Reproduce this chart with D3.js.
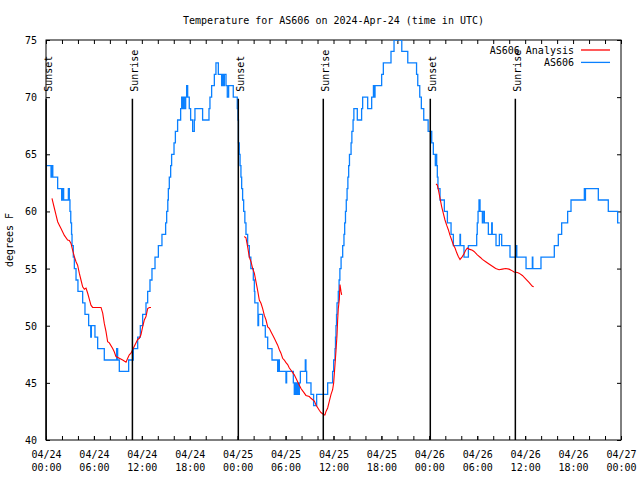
<!DOCTYPE html>
<html><head><meta charset="utf-8">
<script src="https://cdn.jsdelivr.net/npm/d3@7"></script>
<style>
body{margin:0;background:#fff}
svg text{font-family:'DejaVu Sans Mono',monospace;font-size:10px;fill:#000}
</style>
</head><body>
<svg id="chart" width="640" height="480"></svg>
<script>
// ---------- DATA ----------
const chartTitle = "Temperature for AS606 on 2024-Apr-24 (time in UTC)";
const yLabel = "degrees F";
const seriesNames = ["AS606 Analysis", "AS606"];
const seriesColors = ["#ff0000", "#0a80ff"];

// x tick labels (every 6 hours from 04/24 00:00 UTC)
const xTickHours = [0, 6, 12, 18, 24, 30, 36, 42, 48, 54, 60, 66, 72];
const xTickDates = ["04/24","04/24","04/24","04/24","04/25","04/25","04/25","04/25","04/26","04/26","04/26","04/26","04/27"];
const xTickTimes = ["00:00","06:00","12:00","18:00","00:00","06:00","12:00","18:00","00:00","06:00","12:00","18:00","00:00"];
const yTicks = [40, 45, 50, 55, 60, 65, 70, 75];

// sun events (hours since 04/24 00:00 UTC)
const sunsetHours = [0.02, 24.08, 48.12];
const sunriseHours = [10.82, 34.72, 58.77];
const sunLineTop = 69.85;

// AS606 observations (step changes): hours, temperature F
const blueHours = [0,0.63,0.75,0.85,1.46,1.96,2.09,2.21,2.8,2.92,3.0,3.1,3.2,3.26,3.42,3.55,3.76,4.0,4.59,4.88,5.34,5.6,5.68,6.13,6.47,7.3,8.85,8.97,9.18,10.35,10.93,11.48,11.81,12.1,12.52,12.73,13.02,13.27,13.65,14.07,14.52,
14.98,15.11,15.25,15.32,15.44,15.61,15.73,16.03,16.2,16.48,16.86,16.99,17.11,17.19,17.32,17.49,17.61,17.74,17.94,18.11,18.36,18.57,18.65,19.61,20.41,20.53,20.74,21.08,21.28,21.58,21.99,22.12,22.2,22.33,22.54,22.7,22.87,23.45,23.95,24.04,24.1,24.2,24.3,24.41,24.5,24.62,24.75,24.9,25.04,
25.25,25.46,25.65,25.96,26.09,26.15,26.54,26.62,27.13,27.46,27.76,28.3,29.01,29.13,29.22,30.05,30.13,30.97,31.09,31.22,31.3,31.43,31.59,31.72,31.85,32.47,32.55,32.64,33.18,33.51,33.89,35.27,35.89,36.02,36.19,36.25,36.31,36.38,36.44,36.6,36.7,36.8,36.95,37.15,37.31,37.4,37.5,37.6,37.7,37.8,37.9,38.0,38.2,38.3,38.45,38.55,38.98,39.52,39.65,40.28,40.78,41.0,41.1,41.2,42.03,42.24,43.2,43.58,43.7,43.91,44.05,44.3,44.55,45.3,46.4,46.55,46.8,47.0,47.3,47.85,
48.3,48.5,48.75,48.82,48.92,49.0,49.08,49.34,49.88,50.26,50.72,51.01,51.84,51.9,52.34,52.89,53.93,54.0,54.1,54.22,54.35,54.64,54.72,54.89,55.39,55.81,55.88,56.35,56.77,57.06,58.1,58.85,58.95,60.11,60.9,60.96,61.98,63.65,64.15,64.57,65.32,65.74,67.41,67.5,67.55,69.16,70.41,71.58,71.85];
const blueTemps = [64,63,64,63,62,61,62,61,62,61,60,59,58,57,56,55,54,53,52,51,50,49,50,49,48,47,48,47,46,47,48,49,50,51,52,53,54,55,56,57,58,
59,60,61,62,63,64,65,66,67,68,69,70,69,70,69,70,71,70,69,68,67,68,69,68,69,70,71,72,73,72,71,72,71,72,71,70,71,70,69,68,66,65,64,63,62,61,60,59,58,
57,56,55,54,53,52,50,51,50,49,48,47,46,47,46,45,46,45,44,45,44,45,44,45,46,47,46,45,44,43,44,45,46,47,48,49,50,51,52,53,54,55,56,57,58,59,60,61,62,63,64,65,66,67,68,69,68,69,70,69,70,71,70,71,72,73,74,75,76,75,76,75,74,73,72,71,70,69,68,67,
66,65,64,65,64,63,62,61,60,59,58,57,58,57,56,57,58,59,60,61,60,59,60,59,58,59,58,57,58,57,56,57,56,55,56,55,56,57,58,59,60,61,62,61,62,61,60,59,59];

// AS606 Analysis (null = gap)
const redHours = [0.75,1.04,1.25,1.46,1.67,1.88,2.09,2.3,2.71,2.92,3.13,3.34,3.55,3.76,3.96,4.17,4.38,4.59,4.8,5.01,5.22,5.43,5.63,5.84,6.89,7.1,7.3,7.51,7.72,7.93,8.35,8.56,8.76,9.18,9.6,10.02,10.23,10.43,10.64,10.85,11.06,11.48,11.69,11.89,12.1,12.31,12.52,12.73,12.94,13.15,
null,
24.83,25.04,25.25,25.46,25.67,25.88,26.09,26.29,26.5,26.71,26.92,27.13,27.34,27.55,27.76,27.96,28.17,28.38,28.59,28.8,29.01,29.22,29.42,29.63,29.84,30.05,30.26,30.47,30.68,30.89,31.09,31.3,31.51,31.72,31.93,32.14,32.35,32.55,32.97,33.18,33.6,33.81,34.22,34.43,34.64,34.81,34.93,35.06,35.27,35.48,35.69,35.89,36.02,36.19,36.31,36.44,36.52,36.6,36.73,36.81,36.94,37.02,
null,
48.84,49.0,49.13,49.34,49.55,49.76,49.96,50.17,50.38,50.59,50.8,51.01,51.22,51.42,51.63,51.84,52.13,52.34,52.55,52.76,52.97,53.39,53.6,54.01,54.43,54.64,55.06,55.47,55.89,56.31,56.73,57.14,57.56,57.98,58.4,58.6,59.02,59.23,59.65,60.06,60.48,60.9,61.07];
const redTemps = [61.15,60.3,59.7,59.1,58.8,58.5,58.2,57.9,57.5,57.45,57.2,56.6,56.05,55.6,55.3,54.6,54.0,53.4,53.2,53.3,52.84,52.3,51.8,51.6,51.6,51.1,50.2,49.5,48.6,48.5,48.0,47.7,47.3,47.15,47.0,46.8,47.15,47.45,47.6,47.9,48.2,48.8,48.9,49.2,49.9,50.5,50.8,51.5,51.6,51.6,
null,
57.8,57.7,56.9,56.0,55.6,55.0,54.6,53.85,53.1,52.25,51.96,51.5,50.9,50.5,49.9,49.77,49.48,49.19,48.9,48.6,48.3,47.9,47.6,47.15,47.0,46.77,46.6,46.3,46.1,45.9,45.7,45.4,45.1,44.8,44.5,44.3,44.1,43.9,43.8,43.65,43.4,43.07,42.6,42.4,42.3,42.2,42.2,42.5,42.8,43.4,44.0,44.4,45.0,46.6,47.8,49.2,50.5,51.5,52.3,53.6,53.0,52.7,
null,
62.4,62.3,61.9,61.15,60.4,59.8,59.25,58.8,58.4,57.9,57.5,57.07,56.8,56.4,56.05,55.8,56.05,56.3,56.6,56.8,56.7,56.6,56.5,56.2,55.95,55.8,55.6,55.4,55.2,55.0,54.9,54.95,55.0,54.95,54.8,54.7,54.65,54.6,54.4,54.1,53.8,53.45,53.4];

// ---------- CHART ----------
const L = 46, R = 621, T = 40, B = 440;
const svg = d3.select("#chart");
const x = d3.scaleLinear().domain([0, 72]).range([L, R]);
const y = d3.scaleLinear().domain([40, 75]).range([B, T]);

svg.append("defs").append("clipPath").attr("id", "clip")
  .append("rect").attr("x", L).attr("y", T).attr("width", R - L).attr("height", B - T);

function styleAxis(g) {
  g.select(".domain").remove();
  g.selectAll("line").attr("stroke", "#000");
  g.selectAll("text").attr("font-family", null).attr("font-size", null).attr("fill", "#000");
  g.attr("font-family", null).attr("font-size", null);
}

// bottom axis with major ticks and labels
const gx = svg.append("g").attr("transform", `translate(0,${B})`)
  .call(d3.axisBottom(x).tickValues(xTickHours).tickSize(-4).tickFormat(""));
styleAxis(gx);
gx.selectAll(".tick").each(function(d, i) {
  const t = d3.select(this).append("text").attr("text-anchor", "middle");
  t.append("tspan").attr("x", 0).attr("y", 17.5).text(xTickDates[i]);
  t.append("tspan").attr("x", 0).attr("y", 31).text(xTickTimes[i]);
});
// minor ticks bottom and top
const minorHours = d3.range(0, 73, 2);
styleAxis(svg.append("g").attr("transform", `translate(0,${B})`)
  .call(d3.axisBottom(x).tickValues(minorHours).tickSize(-4).tickFormat("")));
styleAxis(svg.append("g").attr("transform", `translate(0,${T})`)
  .call(d3.axisTop(x).tickValues(minorHours).tickSize(-4).tickFormat("")));

// left / right axes
const gy = svg.append("g").attr("transform", `translate(${L},0)`)
  .call(d3.axisLeft(y).tickValues(yTicks).tickSize(-4).tickPadding(9).tickFormat(d3.format("d")));
styleAxis(gy);
gy.selectAll("text").attr("dy", "0.35em");
styleAxis(svg.append("g").attr("transform", `translate(${R},0)`)
  .call(d3.axisRight(y).tickValues(yTicks).tickSize(-4).tickFormat("")));

// border
svg.append("rect").attr("x", L).attr("y", T).attr("width", R - L).attr("height", B - T)
  .attr("fill", "none").attr("stroke", "#000").attr("stroke-width", 1);

// data lines
const blueData = blueHours.map((h, i) => ({h, v: blueTemps[i]}));
const redData = redHours.map((h, i) => ({h, v: redTemps[i]}));
const plot = svg.append("g").attr("clip-path", "url(#clip)");

plot.append("path").datum(blueData)
  .attr("fill", "none").attr("stroke", seriesColors[1]).attr("stroke-width", 1.3)
  .attr("d", d3.line().x(d => x(d.h)).y(d => y(d.v)).curve(d3.curveStepAfter));

plot.append("path").datum(redData)
  .attr("fill", "none").attr("stroke", seriesColors[0]).attr("stroke-width", 1.1)
  .attr("d", d3.line().defined(d => d.h !== null && d.v !== null).x(d => x(d.h)).y(d => y(d.v)));

// sun lines + labels
const sunEvents = sunsetHours.map(h => ({h, name: "Sunset"}))
  .concat(sunriseHours.map(h => ({h, name: "Sunrise"})));
sunEvents.forEach(e => {
  svg.append("line").attr("x1", x(e.h)).attr("x2", x(e.h)).attr("y1", y(40)).attr("y2", y(sunLineTop))
    .attr("stroke", "#000").attr("stroke-width", 1.5);
  svg.append("text").attr("transform", `translate(${x(e.h) + 5.5},${y(sunLineTop) - 7}) rotate(-90)`)
    .attr("text-anchor", "start").text(e.name);
});

// title + y label
svg.append("text").attr("x", (L + R) / 2).attr("y", 23.5).attr("text-anchor", "middle").text(chartTitle);
svg.append("text").attr("transform", `translate(13,240) rotate(-90)`).attr("text-anchor", "middle").text(yLabel);

// legend
seriesNames.forEach((name, i) => {
  const ly = 50 + i * 12.4;
  svg.append("text").attr("x", 574).attr("y", ly + 3.5).attr("text-anchor", "end").text(name);
  svg.append("line").attr("x1", 581).attr("x2", 610).attr("y1", ly).attr("y2", ly)
    .attr("stroke", seriesColors[i]).attr("stroke-width", 1.3);
});
</script>
</body></html>
